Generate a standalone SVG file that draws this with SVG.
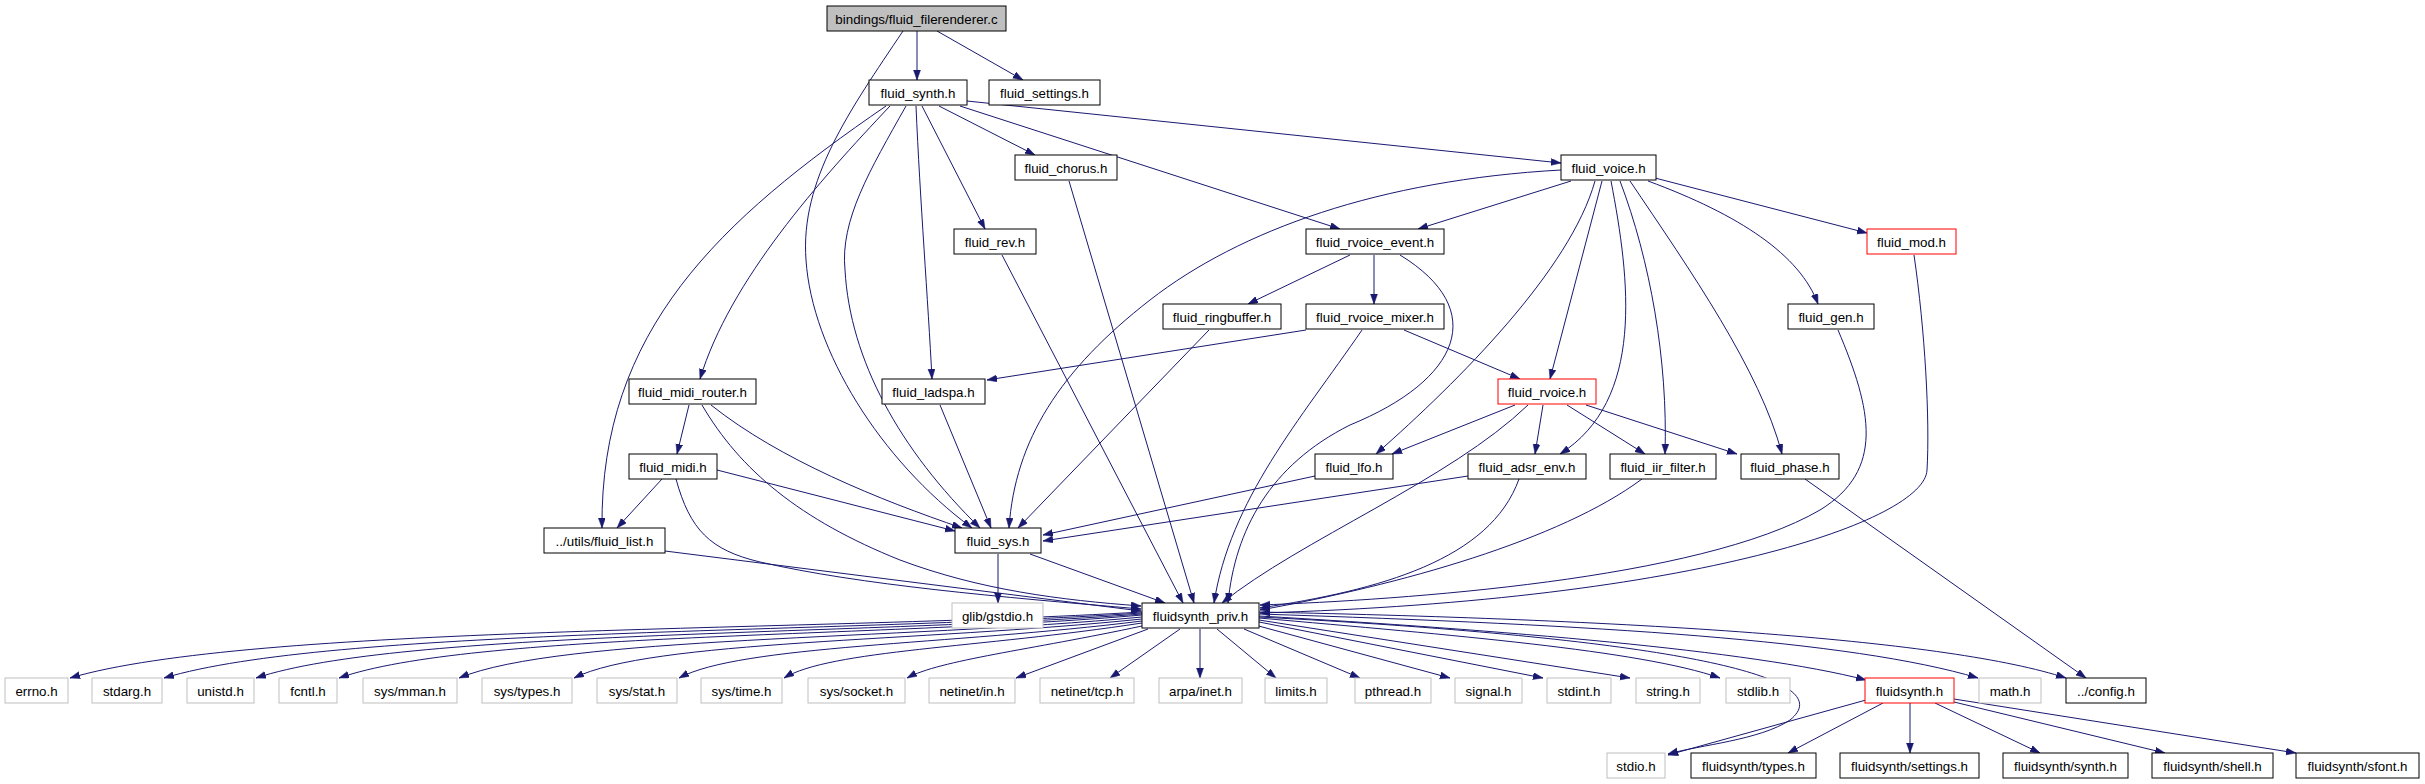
<svg xmlns="http://www.w3.org/2000/svg" width="2425" height="784" viewBox="0 0 2425 784">
<defs>
<marker id="ah" markerUnits="userSpaceOnUse" markerWidth="11" markerHeight="8" refX="10" refY="3.5" orient="auto">
<path d="M0,0 L10,3.5 L0,7 z" fill="#191970" stroke="#191970" stroke-width="0.5"/>
</marker>
<style>
rect{fill:#ffffff;stroke:#000000;stroke-width:1}
.root rect{fill:#bfbfbf}
.gray rect{stroke:#bfbfbf}
.red rect{stroke:#ff0000}
text{font-family:"Liberation Sans",Helvetica,Arial,sans-serif;font-size:13.33px;text-anchor:middle;fill:#000000}
#edges path{fill:none;stroke:#191970;stroke-width:1;marker-end:url(#ah)}
</style>
</defs>
<rect x="0" y="0" width="2425" height="784" style="fill:#ffffff;stroke:none"/>
<g id="edges">
<path d="M917,31 L917,80"/>
<path d="M937,31 L1023,80"/>
<path d="M903,31 C850,110 800,180 806,260 C812,350 880,460 972,528"/>
<path d="M906,106 C870,170 840,220 845,270 C850,360 900,450 980,528"/>
<path d="M890,106 C820,180 730,280 700,379"/>
<path d="M886,106 C720,220 600,330 602,528"/>
<path d="M916,106 C920,200 928,300 932,379"/>
<path d="M922,106 L985,229"/>
<path d="M939,106 L1035,155"/>
<path d="M960,106 L1340,229"/>
<path d="M967,101 L1561,163"/>
<path d="M1069,181 L1194,603"/>
<path d="M1002,255 L1183,603"/>
<path d="M1561,170 C1380,180 1240,230 1150,300 C1060,370 1015,440 1009,528"/>
<path d="M1209,330 L1018,528"/>
<path d="M940,405 L991,528"/>
<path d="M711,405 C780,460 880,500 962,528"/>
<path d="M717,470 L955,531"/>
<path d="M1315,476 L1043,535"/>
<path d="M1468,476 L1043,541"/>
<path d="M689,405 L677,454"/>
<path d="M702,405 C740,470 800,520 900,560 C980,590 1060,600 1141,606"/>
<path d="M662,479 L617,528"/>
<path d="M676,479 C690,530 710,550 760,562 C860,585 1000,597 1141,609"/>
<path d="M665,551 L1141,611"/>
<path d="M998,554 L998,603"/>
<path d="M1030,554 L1165,603"/>
<path d="M1571,181 L1418,229"/>
<path d="M1655,178 L1867,233"/>
<path d="M1648,181 C1740,215 1800,255 1818,304"/>
<path d="M1630,181 C1690,270 1760,370 1782,454"/>
<path d="M1620,181 C1650,260 1668,360 1665,454"/>
<path d="M1611,181 C1630,280 1645,400 1560,454"/>
<path d="M1602,181 L1550,379"/>
<path d="M1595,181 C1570,270 1460,380 1376,454"/>
<path d="M1350,255 L1248,304"/>
<path d="M1374,255 L1374,304"/>
<path d="M1400,255 C1490,310 1460,380 1350,425 C1270,465 1235,530 1228,603"/>
<path d="M1306,330 L987,380"/>
<path d="M1404,330 L1520,379"/>
<path d="M1362,330 C1300,420 1230,500 1214,603"/>
<path d="M1515,405 L1392,454"/>
<path d="M1543,405 L1535,454"/>
<path d="M1567,405 L1645,454"/>
<path d="M1586,405 L1737,454"/>
<path d="M1528,405 C1450,480 1300,540 1222,603"/>
<path d="M1519,479 C1490,560 1380,590 1260,608"/>
<path d="M1642,479 C1560,540 1400,585 1260,610"/>
<path d="M1805,479 L2086,678"/>
<path d="M1838,330 C1872,410 1885,470 1820,510 C1700,580 1400,600 1260,605"/>
<path d="M1914,255 C1925,330 1930,420 1927,470 C1925,520 1700,600 1260,613"/>
<path d="M1142,612 C800,632 250,625 70,678"/>
<path d="M1142,613 C820,634 330,628 164,678"/>
<path d="M1142,614 C850,636 400,630 256,678"/>
<path d="M1142,615 C880,638 470,632 339,678"/>
<path d="M1142,617 C900,640 560,636 459,678"/>
<path d="M1142,619 C920,642 650,640 574,678"/>
<path d="M1142,621 C950,645 740,645 679,678"/>
<path d="M1142,623 C980,648 830,650 784,678"/>
<path d="M1142,626 C1030,650 940,660 907,678"/>
<path d="M1148,629 L1016,678"/>
<path d="M1180,629 L1110,678"/>
<path d="M1200,629 L1200,678"/>
<path d="M1217,629 L1276,678"/>
<path d="M1244,629 L1360,678"/>
<path d="M1255,625 L1450,678"/>
<path d="M1259,622 L1543,678"/>
<path d="M1259,620 L1630,678"/>
<path d="M1259,618 C1450,635 1640,650 1720,678"/>
<path d="M1259,617 C1700,640 1840,680 1790,720 C1760,740 1700,745 1668,754"/>
<path d="M1259,616 C1500,630 1750,650 1866,680"/>
<path d="M1259,614 C1600,625 1850,640 1978,678"/>
<path d="M1259,612 C1650,620 1950,640 2066,678"/>
<path d="M1866,700 L1668,755"/>
<path d="M1883,703 L1788,753"/>
<path d="M1910,703 L1910,753"/>
<path d="M1935,703 L2040,753"/>
<path d="M1954,702 L2165,753"/>
<path d="M1954,699 L2296,753"/>
</g>
<g id="n_root" class="root"><rect x="827" y="6" width="179" height="25"/><text x="916.5" y="23.5">bindings/fluid_filerenderer.c</text></g>
<g id="n_synth"><rect x="869" y="80" width="98" height="25"/><text x="918" y="97.5">fluid_synth.h</text></g>
<g id="n_settings"><rect x="989" y="80" width="111" height="25"/><text x="1044.5" y="97.5">fluid_settings.h</text></g>
<g id="n_chorus"><rect x="1015" y="155" width="102" height="25"/><text x="1066" y="172.5">fluid_chorus.h</text></g>
<g id="n_voice"><rect x="1561" y="155" width="95" height="25"/><text x="1608.5" y="172.5">fluid_voice.h</text></g>
<g id="n_rev"><rect x="954" y="229" width="82" height="25"/><text x="995" y="246.5">fluid_rev.h</text></g>
<g id="n_rvoice_event"><rect x="1306" y="229" width="138" height="25"/><text x="1375" y="246.5">fluid_rvoice_event.h</text></g>
<g id="n_mod" class="red"><rect x="1867" y="229" width="89" height="25"/><text x="1911.5" y="246.5">fluid_mod.h</text></g>
<g id="n_ringbuffer"><rect x="1163" y="304" width="118" height="25"/><text x="1222" y="321.5">fluid_ringbuffer.h</text></g>
<g id="n_rvoice_mixer"><rect x="1306" y="304" width="138" height="25"/><text x="1375" y="321.5">fluid_rvoice_mixer.h</text></g>
<g id="n_gen"><rect x="1788" y="304" width="86" height="25"/><text x="1831" y="321.5">fluid_gen.h</text></g>
<g id="n_ladspa"><rect x="882" y="379" width="103" height="25"/><text x="933.5" y="396.5">fluid_ladspa.h</text></g>
<g id="n_rvoice" class="red"><rect x="1498" y="379" width="98" height="25"/><text x="1547" y="396.5">fluid_rvoice.h</text></g>
<g id="n_midi_router"><rect x="629" y="379" width="127" height="25"/><text x="692.5" y="396.5">fluid_midi_router.h</text></g>
<g id="n_midi"><rect x="629" y="454" width="88" height="25"/><text x="673" y="471.5">fluid_midi.h</text></g>
<g id="n_lfo"><rect x="1315" y="454" width="78" height="25"/><text x="1354" y="471.5">fluid_lfo.h</text></g>
<g id="n_adsr_env"><rect x="1468" y="454" width="118" height="25"/><text x="1527" y="471.5">fluid_adsr_env.h</text></g>
<g id="n_iir_filter"><rect x="1610" y="454" width="106" height="25"/><text x="1663" y="471.5">fluid_iir_filter.h</text></g>
<g id="n_phase"><rect x="1741" y="454" width="98" height="25"/><text x="1790" y="471.5">fluid_phase.h</text></g>
<g id="n_fluid_list"><rect x="544" y="528" width="121" height="25"/><text x="604.5" y="545.5">../utils/fluid_list.h</text></g>
<g id="n_sys"><rect x="955" y="528" width="86" height="25"/><text x="998" y="545.5">fluid_sys.h</text></g>
<g id="n_gstdio" class="gray"><rect x="952" y="603" width="91" height="25"/><text x="997.5" y="620.5">glib/gstdio.h</text></g>
<g id="n_priv"><rect x="1142" y="603" width="117" height="25"/><text x="1200.5" y="620.5">fluidsynth_priv.h</text></g>
<g id="n_errno" class="gray"><rect x="5" y="678" width="63" height="25"/><text x="36.5" y="695.5">errno.h</text></g>
<g id="n_stdarg" class="gray"><rect x="92" y="678" width="70" height="25"/><text x="127" y="695.5">stdarg.h</text></g>
<g id="n_unistd" class="gray"><rect x="187" y="678" width="67" height="25"/><text x="220.5" y="695.5">unistd.h</text></g>
<g id="n_fcntl" class="gray"><rect x="279" y="678" width="58" height="25"/><text x="308" y="695.5">fcntl.h</text></g>
<g id="n_mman" class="gray"><rect x="363" y="678" width="94" height="25"/><text x="410" y="695.5">sys/mman.h</text></g>
<g id="n_types" class="gray"><rect x="482" y="678" width="90" height="25"/><text x="527" y="695.5">sys/types.h</text></g>
<g id="n_stat" class="gray"><rect x="597" y="678" width="80" height="25"/><text x="637" y="695.5">sys/stat.h</text></g>
<g id="n_time" class="gray"><rect x="701" y="678" width="81" height="25"/><text x="741.5" y="695.5">sys/time.h</text></g>
<g id="n_socket" class="gray"><rect x="808" y="678" width="97" height="25"/><text x="856.5" y="695.5">sys/socket.h</text></g>
<g id="n_in" class="gray"><rect x="929" y="678" width="86" height="25"/><text x="972" y="695.5">netinet/in.h</text></g>
<g id="n_tcp" class="gray"><rect x="1040" y="678" width="94" height="25"/><text x="1087" y="695.5">netinet/tcp.h</text></g>
<g id="n_arpa" class="gray"><rect x="1159" y="678" width="83" height="25"/><text x="1200.5" y="695.5">arpa/inet.h</text></g>
<g id="n_limits" class="gray"><rect x="1265" y="678" width="62" height="25"/><text x="1296" y="695.5">limits.h</text></g>
<g id="n_pthread" class="gray"><rect x="1355" y="678" width="76" height="25"/><text x="1393" y="695.5">pthread.h</text></g>
<g id="n_signal" class="gray"><rect x="1455" y="678" width="67" height="25"/><text x="1488.5" y="695.5">signal.h</text></g>
<g id="n_stdint" class="gray"><rect x="1547" y="678" width="64" height="25"/><text x="1579" y="695.5">stdint.h</text></g>
<g id="n_string" class="gray"><rect x="1636" y="678" width="64" height="25"/><text x="1668" y="695.5">string.h</text></g>
<g id="n_stdlib" class="gray"><rect x="1726" y="678" width="64" height="25"/><text x="1758" y="695.5">stdlib.h</text></g>
<g id="n_fluidsynth" class="red"><rect x="1865" y="678" width="89" height="25"/><text x="1909.5" y="695.5">fluidsynth.h</text></g>
<g id="n_math" class="gray"><rect x="1979" y="678" width="62" height="25"/><text x="2010" y="695.5">math.h</text></g>
<g id="n_config"><rect x="2066" y="678" width="80" height="25"/><text x="2106" y="695.5">../config.h</text></g>
<g id="n_stdio" class="gray"><rect x="1607" y="753" width="58" height="25"/><text x="1636" y="770.5">stdio.h</text></g>
<g id="n_fs_types"><rect x="1691" y="753" width="125" height="25"/><text x="1753.5" y="770.5">fluidsynth/types.h</text></g>
<g id="n_fs_settings"><rect x="1840" y="753" width="139" height="25"/><text x="1909.5" y="770.5">fluidsynth/settings.h</text></g>
<g id="n_fs_synth"><rect x="2003" y="753" width="125" height="25"/><text x="2065.5" y="770.5">fluidsynth/synth.h</text></g>
<g id="n_fs_shell"><rect x="2152" y="753" width="121" height="25"/><text x="2212.5" y="770.5">fluidsynth/shell.h</text></g>
<g id="n_fs_sfont"><rect x="2296" y="753" width="123" height="25"/><text x="2357.5" y="770.5">fluidsynth/sfont.h</text></g>
</svg>
